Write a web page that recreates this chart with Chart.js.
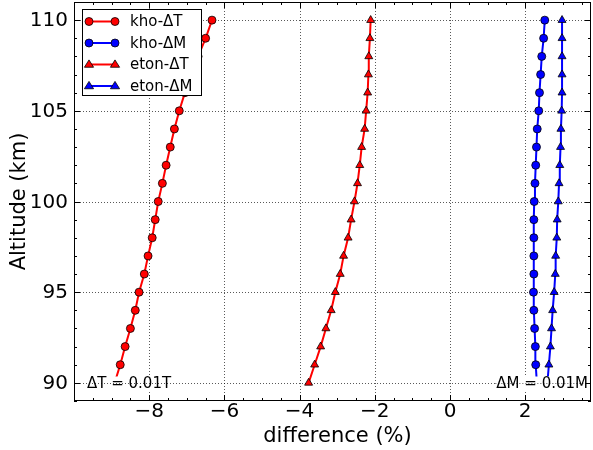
<!DOCTYPE html>
<html><head><meta charset="utf-8">
<script src="https://cdn.jsdelivr.net/npm/chart.js@4/dist/chart.umd.min.js"></script>
<style>html,body{margin:0;padding:0;background:#fff}</style>
</head><body>
<canvas id="c" width="593" height="450"></canvas>
<script>
const altitudes = [90,91,92,93,94,95,96,97,98,99,100,101,102,103,104,105,106,107,108,109,110];
const khoDT  = [-8.92,-8.77,-8.64,-8.50,-8.37,-8.27,-8.13,-8.03,-7.92,-7.84,-7.76,-7.65,-7.55,-7.44,-7.33,-7.20,-7.05,-6.88,-6.70,-6.50,-6.33];
const khoDM  = [2.31,2.28,2.27,2.25,2.23,2.22,2.23,2.23,2.23,2.23,2.24,2.26,2.28,2.30,2.32,2.36,2.38,2.41,2.44,2.49,2.52];
const etonDT = [-3.76,-3.60,-3.44,-3.30,-3.16,-3.05,-2.92,-2.83,-2.71,-2.63,-2.54,-2.46,-2.40,-2.35,-2.27,-2.23,-2.19,-2.17,-2.16,-2.13,-2.11];
const etonDM = [2.59,2.63,2.67,2.70,2.73,2.77,2.80,2.81,2.84,2.85,2.88,2.90,2.92,2.94,2.95,2.97,2.98,2.98,2.98,2.98,2.98];
const seriesNames = ['kho-\u0394T','kho-\u0394M','eton-\u0394T','eton-\u0394M'];
const xTicks = [-8,-6,-4,-2,0,2];
const yTicks = [90,95,100,105,110];
const xMinor = [-10,-9.5,-9,-8.5,-8,-7.5,-7,-6.5,-6,-5.5,-5,-4.5,-4,-3.5,-3,-2.5,-2,-1.5,-1,-0.5,0,0.5,1,1.5,2,2.5,3,3.5];
const yMinor = [89,90,91,92,93,94,95,96,97,98,99,100,101,102,103,104,105,106,107,108,109,110,111];
const xTitle = 'difference (%)';
const yTitle = 'Altitude (km)';
const noteT = '\u0394T = 0.01T';
const noteM = '\u0394M = 0.01M';

const FONT = '"DejaVu Sans", sans-serif';
const RED = '#ff0000', BLUE = '#0000ff';
const CR = 4, TR = 4.6;
function fmt(v){ return v<0 ? '\u2212'+Math.abs(v) : String(v); }
function mk(vals){ return altitudes.map((a,i)=>({x:vals[i], y:a})); }
function ds(label, vals, color, style){
  return {label, data: mk(vals), showLine:true, borderColor:color, backgroundColor:color,
    borderWidth:2, pointStyle:style, pointRadius: style==='circle'?CR:TR,
    pointBackgroundColor:color, pointBorderColor:'#000', pointBorderWidth:0.8, tension:0};
}
function drawMarker(ctx, style, x, y, color){
  ctx.save(); ctx.fillStyle=color; ctx.strokeStyle='#000'; ctx.lineWidth=0.8; ctx.setLineDash([]);
  ctx.beginPath();
  if(style==='circle'){ ctx.arc(x,y,CR,0,Math.PI*2); }
  else { const r=TR; ctx.moveTo(x, y-r); ctx.lineTo(x+r*0.866*1.15, y+r*0.6); ctx.lineTo(x-r*0.866*1.15, y+r*0.6); ctx.closePath(); }
  ctx.fill(); ctx.stroke(); ctx.restore();
}
function dotted(ctx,x1,y1,x2,y2){
  ctx.save(); ctx.strokeStyle='rgba(0,0,0,0.65)'; ctx.lineWidth=1; ctx.setLineDash([1,2]);
  ctx.beginPath(); ctx.moveTo(x1,y1); ctx.lineTo(x2,y2); ctx.stroke(); ctx.restore();
}
const frame = {
  id:'frame',
  beforeDatasetsDraw(chart){
    const {ctx, chartArea:a, scales:{x,y}} = chart;
    xTicks.forEach(v=>{ const p=Math.round(x.getPixelForValue(v))+0.5; dotted(ctx,p,a.top,p,a.bottom); });
    yTicks.forEach(v=>{ const p=Math.round(y.getPixelForValue(v))+0.5; dotted(ctx,a.left,p,a.right,p); });
  },
  afterDatasetsDraw(chart){
    const {ctx, chartArea:a, scales:{x,y}} = chart;
    // annotations
    ctx.save();
    ctx.font = '15px '+FONT; ctx.textBaseline='middle';
    const yy = Math.round(y.getPixelForValue(90))+0.5;
    let w = ctx.measureText(noteT).width;
    let x0 = 87;
    ctx.fillStyle='#fff'; ctx.fillRect(x0-1, yy-7, w+2, 14);
    dotted(ctx, x0-1, yy, x0+w+1, yy);
    ctx.fillStyle='#000'; ctx.textAlign='left'; ctx.fillText(noteT, x0, yy+1);
    w = ctx.measureText(noteM).width;
    let x1 = 588;
    ctx.fillStyle='#fff'; ctx.fillRect(x1-w-1, yy-7, w+2, 14);
    dotted(ctx, x1-w-1, yy, x1+1, yy);
    ctx.fillStyle='#000'; ctx.textAlign='right'; ctx.fillText(noteM, x1, yy+1);
    ctx.restore();
    // legend
    ctx.save();
    ctx.fillStyle='#fff'; ctx.fillRect(82.5,9.5,119,86);
    ctx.strokeStyle='#000'; ctx.lineWidth=1; ctx.strokeRect(82.5,9.5,119,86);
    const rows=[21.5,43,64.5,86];
    const cols=[RED,BLUE,RED,BLUE];
    const sty=['circle','circle','triangle','triangle'];
    ctx.font='15px '+FONT; ctx.textBaseline='middle'; ctx.textAlign='left';
    rows.forEach((ry,i)=>{
      ctx.strokeStyle=cols[i]; ctx.lineWidth=2; ctx.beginPath(); ctx.moveTo(89,ry); ctx.lineTo(115,ry); ctx.stroke();
      drawMarker(ctx,sty[i],89,ry,cols[i]); drawMarker(ctx,sty[i],115,ry,cols[i]);
      ctx.fillStyle='#000'; ctx.fillText(seriesNames[i],130,ry+1);
    });
    ctx.restore();
    // frame & ticks
    ctx.save();
    ctx.strokeStyle='#000'; ctx.lineWidth=1; ctx.setLineDash([]);
    ctx.strokeRect(Math.round(a.left)+0.5, Math.round(a.top)+0.5, Math.round(a.right-a.left)-1, Math.round(a.bottom-a.top)-1);
    ctx.beginPath();
    xMinor.forEach(v=>{ const p=Math.round(x.getPixelForValue(v))+0.5; const L = xTicks.includes(v)?6:3;
      ctx.moveTo(p,a.bottom); ctx.lineTo(p,a.bottom-L); ctx.moveTo(p,a.top); ctx.lineTo(p,a.top+L); });
    yMinor.forEach(v=>{ const p=Math.round(y.getPixelForValue(v))+0.5; const L = yTicks.includes(v)?6:3;
      ctx.moveTo(a.left,p); ctx.lineTo(a.left+L,p); ctx.moveTo(a.right,p); ctx.lineTo(a.right-L,p); });
    ctx.stroke();
    // tick labels
    ctx.fillStyle='#000'; ctx.font='20px '+FONT;
    ctx.textAlign='center'; ctx.textBaseline='middle';
    xTicks.forEach(v=>{ ctx.fillText(fmt(v), x.getPixelForValue(v), 412); });
    ctx.textAlign='right';
    yTicks.forEach(v=>{ ctx.fillText(fmt(v), 68, y.getPixelForValue(v)+1); });
    // titles
    ctx.font='21px '+FONT;
    ctx.textAlign='center'; ctx.textBaseline='middle';
    ctx.fillText(xTitle, (a.left+a.right)/2+5, 437);
    ctx.translate(20,(a.top+a.bottom)/2); ctx.rotate(-Math.PI/2); ctx.fillText(yTitle,0,0);
    ctx.restore();
  }
};
new Chart(document.getElementById('c'), {
  type:'scatter',
  data:{ datasets:[
    ds(seriesNames[0], khoDT, RED, 'circle'),
    ds(seriesNames[1], khoDM, BLUE, 'circle'),
    ds(seriesNames[2], etonDT, RED, 'triangle'),
    ds(seriesNames[3], etonDM, BLUE, 'triangle')
  ]},
  options:{
    responsive:false, animation:false, devicePixelRatio:1,
    layout:{autoPadding:false, padding:{left:0,right:2,top:2,bottom:0}},
    plugins:{legend:{display:false}, tooltip:{enabled:false}},
    scales:{
      x:{type:'linear', min:-10, max:3.75,
        afterBuildTicks:s=>{ s.ticks = xTicks.map(v=>({value:v})); },
        afterFit:s=>{ s.height = 49; },
        grid:{display:false}, border:{display:false},
        ticks:{display:false}},
      y:{type:'linear', min:89, max:111,
        afterBuildTicks:s=>{ s.ticks = yTicks.map(v=>({value:v})); },
        afterFit:s=>{ s.width = 74; },
        grid:{display:false}, border:{display:false},
        ticks:{display:false}}
    }
  },
  plugins:[frame]
});
</script>
</body></html>
